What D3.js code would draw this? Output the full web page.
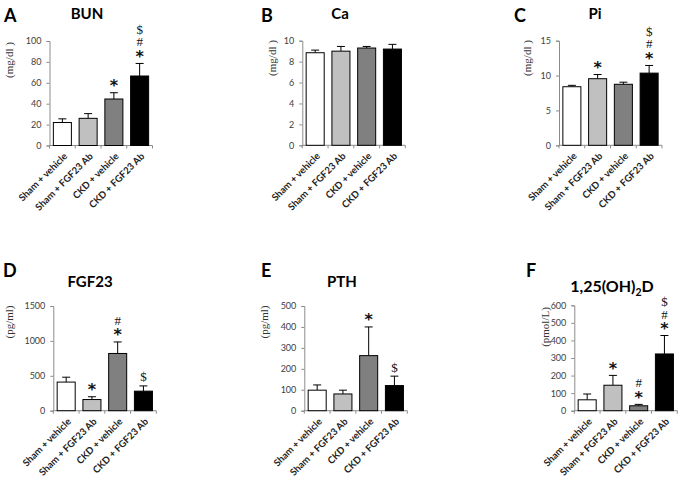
<!DOCTYPE html>
<html><head><meta charset="utf-8">
<script src="https://cdn.jsdelivr.net/npm/d3@7/dist/d3.min.js"></script>
<style>body{margin:0;background:#fff}svg{display:block}</style>
</head><body><svg id="c" width="685" height="484"></svg>
<script>
const categories = ["Sham + vehicle", "Sham + FGF23 Ab", "CKD + vehicle", "CKD + FGF23 Ab"];
const barColors = ["#ffffff", "#c0c0c0", "#808080", "#000000"];

const bunMean = [22, 26, 44.5, 66.5];
const bunErr  = [3.5, 4.5, 6, 12];
const bunMarks = ["", "", "*", "*#$"];
const bunTicks = [0, 20, 40, 60, 80, 100];

const caMean = [8.85, 9.0, 9.3, 9.2];
const caErr  = [0.25, 0.45, 0.15, 0.45];
const caMarks = ["", "", "", ""];
const caTicks = [0, 2, 4, 6, 8, 10];

const piMean = [8.4, 9.55, 8.75, 10.35];
const piErr  = [0.2, 0.6, 0.3, 1.1];
const piMarks = ["", "*", "", "*#$"];
const piTicks = [0, 5, 10, 15];

const fgfMean = [410, 160, 820, 280];
const fgfErr  = [70, 40, 165, 75];
const fgfMarks = ["", "*", "*#", "$"];
const fgfTicks = [0, 500, 1000, 1500];

const pthMean = [98, 80, 263, 120];
const pthErr  = [25, 18, 137, 45];
const pthMarks = ["", "", "*", "$"];
const pthTicks = [0, 100, 200, 300, 400, 500];

const vitdMean = [62, 145, 28, 323];
const vitdErr  = [33, 56, 8, 105];
const vitdMarks = ["", "*", "*#", "*#$"];
const vitdTicks = [0, 100, 200, 300, 400, 500, 600];

const panels = [
  {letter:"A", title:"BUN", unit:"(mg/dl )", mean:bunMean, err:bunErr, marks:bunMarks, ticks:bunTicks,
   x0:49.5, yTop:41, yBot:145.5, lx:4, ly:22, tx:87, ty:19, ulx:9, uly:60},
  {letter:"B", title:"Ca", unit:"(mg/dl )", mean:caMean, err:caErr, marks:caMarks, ticks:caTicks,
   x0:302.3, yTop:40.7, yBot:145.3, lx:261, ly:22, tx:340, ty:19, ulx:272, uly:58},
  {letter:"C", title:"Pi", unit:"(mg/dl )", mean:piMean, err:piErr, marks:piMarks, ticks:piTicks,
   x0:559, yTop:40.7, yBot:145.3, lx:514, ly:22, tx:595, ty:19, ulx:527, uly:58},
  {letter:"D", title:"FGF23", unit:"(pg/ml)", mean:fgfMean, err:fgfErr, marks:fgfMarks, ticks:fgfTicks,
   x0:53.3, yTop:306, yBot:410.7, lx:3, ly:277, tx:90, ty:287, ulx:9, uly:322},
  {letter:"E", title:"PTH", unit:"(pg/ml)", mean:pthMean, err:pthErr, marks:pthMarks, ticks:pthTicks,
   x0:304.3, yTop:306, yBot:410.7, lx:261, ly:277, tx:342, ty:287, ulx:264, uly:322},
  {letter:"F", title:"1,25(OH)", sub:"2", tail:"D", unit:"(pmol/L)", mean:vitdMean, err:vitdErr, marks:vitdMarks, ticks:vitdTicks,
   x0:574.3, yTop:305.3, yBot:410.7, lx:526, ly:277, tx:612, ty:292, ulx:545, uly:327}
];

const svg = d3.select("#c");
const sans = "Lato, 'Open Sans', sans-serif";
const serif = "'Liberation Serif', 'DejaVu Serif', serif";
const axisColor = "#8c8c8c";
const W = 103;

panels.forEach(p => {
  const g = svg.append("g");
  const x = d3.scaleBand().domain(categories).range([p.x0, p.x0 + W]).paddingInner(0.3).paddingOuter(0.15);
  const y = d3.scaleLinear().domain([0, d3.max(p.ticks)]).range([p.yBot, p.yTop]);

  // y axis
  const ya = g.append("g").attr("transform", `translate(${p.x0},0)`)
    .call(d3.axisLeft(y).tickValues(p.ticks).tickSize(3).tickPadding(5).tickFormat(d3.format("d")));
  ya.select(".domain").attr("stroke", axisColor);
  ya.selectAll(".tick line").attr("stroke", axisColor);
  ya.selectAll("text").attr("fill", "#404040").style("font-family", sans).style("font-size", "9px");

  // x axis (ticks at category boundaries)
  const xa = g.append("g").attr("transform", `translate(0,${p.yBot})`);
  xa.append("line").attr("x1", p.x0).attr("x2", p.x0 + W).attr("stroke", axisColor);
  const step = x.step();
  d3.range(5).forEach(i => {
    xa.append("line").attr("x1", p.x0 + i*step).attr("x2", p.x0 + i*step)
      .attr("y1", 0).attr("y2", 3).attr("stroke", axisColor);
  });
  categories.forEach(c => {
    const cx = x(c) + x.bandwidth()/2 + 3;
    xa.append("text").attr("transform", `translate(${cx},9) rotate(-45)`)
      .attr("text-anchor", "end").attr("dy", "0.35em")
      .style("font-family", sans).style("font-size", "9.6px").style("font-weight", "bold")
      .attr("fill", "#222").text(c);
  });

  // bars
  categories.forEach((c, i) => {
    const bx = x(c), bw = x.bandwidth();
    const top = y(p.mean[i]), etop = y(p.mean[i] + p.err[i]);
    const cx = bx + bw/2;
    g.append("line").attr("x1", cx).attr("x2", cx).attr("y1", top).attr("y2", etop)
      .attr("stroke", "#000").attr("stroke-width", 1);
    g.append("line").attr("x1", cx - 4).attr("x2", cx + 4).attr("y1", etop).attr("y2", etop)
      .attr("stroke", "#000").attr("stroke-width", 1);
    g.append("rect").attr("x", bx).attr("y", top).attr("width", bw).attr("height", y(0) - top)
      .attr("fill", barColors[i]).attr("stroke", "#000").attr("stroke-width", 1);

    const marks = p.marks[i].split("");
    if (marks.length) {
      const mt = g.append("text").attr("text-anchor", "middle").attr("fill", "#111");
      marks.forEach((m, k) => {
        const cy = etop - 9 - k*12.5;
        const ts = mt.append("tspan").attr("x", cx).text(m);
        if (m === "*") {
          ts.attr("y", cy + 7.5).style("font-family", "'DejaVu Sans', sans-serif")
            .style("font-size", "16px").style("font-weight", "bold");
        } else {
          ts.attr("y", cy + 4.5).style("font-family", serif).style("font-size", "13px");
        }
      });
    }
  });

  // labels
  svg.append("text").attr("x", p.lx).attr("y", p.ly)
    .style("font-family", sans).style("font-size", "18px").style("font-weight", "bold")
    .attr("fill", "#000").text(p.letter);
  const t = svg.append("text").attr("x", p.tx).attr("y", p.ty).attr("text-anchor", "middle")
    .style("font-family", sans).style("font-size", p.sub ? "16px" : "15px").style("font-weight", "bold").attr("fill", "#000");
  t.append("tspan").text(p.title);
  if (p.sub) {
    t.append("tspan").attr("dy", 4).style("font-size", "10.5px").text(p.sub);
    t.append("tspan").attr("dy", -4).text(p.tail);
  }
  svg.append("text").attr("transform", `translate(${p.ulx},${p.uly}) rotate(-90)`)
    .attr("text-anchor", "middle").attr("dy", "0.35em")
    .style("font-family", serif).style("font-size", "11px").attr("fill", "#333").text(p.unit);
});
</script></body></html>
